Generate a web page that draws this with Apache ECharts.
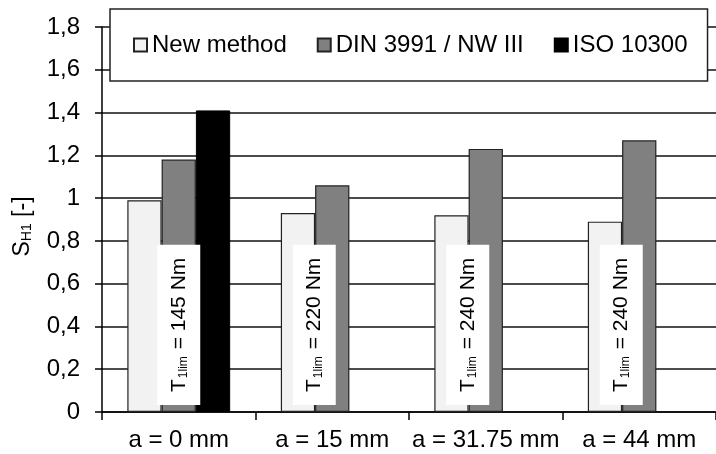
<!DOCTYPE html>
<html>
<head>
<meta charset="utf-8">
<script src="https://cdn.jsdelivr.net/npm/echarts@6/dist/echarts.min.js"></script>
<style>
    html, body { margin: 0; padding: 0; background: #fff; }
    #chart { width: 716px; height: 454px; }
</style>
</head>
<body>
<div id="chart"></div>
<script>
    // 数据
    var categories = ['a = 0 mm', 'a = 15 mm', 'a = 31.75 mm', 'a = 44 mm'];
    var newMethod = [0.99, 0.93, 0.92, 0.89];
    var din3991 = [1.18, 1.06, 1.23, 1.27];
    var iso10300 = [1.41, null, null, null];
    var torqueLabels = ['145', '220', '240', '240'];

    var fontFamily = 'Arial, "Liberation Sans", sans-serif';

    // 竖排扭矩标签
    var labelFor = function(i) {
        return {
            show: true,
            position: 'insideBottom',
            rotate: 90,
            align: 'left',
            verticalAlign: 'middle',
            distance: 7,
            offset: i === 0 ? [0, 0] : [0, -18],
            backgroundColor: '#fff',
            padding: [11, 13, 11, 13],
            formatter: '{t|T}{s|1lim}{t| = ' + torqueLabels[i] + ' Nm}',
            rich: {
                t: { fontSize: 21, color: '#000', fontFamily: fontFamily },
                s: { fontSize: 12, color: '#000', fontFamily: fontFamily, verticalAlign: 'bottom', padding: [0, 1, 0, 1] }
            }
        };
    };

    var dinData = [];
    for (var i = 0; i < din3991.length; i++) {
        dinData.push({ value: din3991[i], label: labelFor(i) });
    }

    var chart = echarts.init(document.getElementById('chart'), null, { renderer: 'canvas' });
    var option = {
        animation: false,
        textStyle: { fontFamily: fontFamily, color: '#000' },
        grid: {
            left: 102,
            top: 27,
            bottom: 42,
            right: -8
        },
        legend: {
            left: 110,
            top: 9,
            padding: [24, 20, 24, 23],
            itemGap: 30,
            itemWidth: 13,
            itemHeight: 13,
            backgroundColor: '#fff',
            borderColor: '#222',
            borderWidth: 1.5,
            textStyle: { fontSize: 24, color: '#000', fontFamily: fontFamily },
            data: [
                { name: 'New method', icon: 'rect' },
                { name: 'DIN 3991 / NW III', icon: 'rect' },
                { name: 'ISO 10300', icon: 'rect' }
            ]
        },
        xAxis: {
            type: 'category',
            data: categories,
            axisLine: { lineStyle: { color: '#000', width: 1.5 } },
            axisTick: { show: true, length: 8, lineStyle: { color: '#000', width: 1.5 } },
            axisLabel: { fontSize: 24, color: '#000', margin: 16, interval: 0, fontFamily: fontFamily }
        },
        yAxis: {
            type: 'value',
            min: 0,
            max: 1.8,
            interval: 0.2,
            name: 'S{sub|H1} [-]',
            nameLocation: 'middle',
            nameGap: 68,
            nameRotate: 90,
            nameTextStyle: {
                fontSize: 23,
                color: '#000',
                fontFamily: fontFamily,
                padding: [0, 14, 0, 0],
                rich: {
                    sub: { fontSize: 14, color: '#000', fontFamily: fontFamily, verticalAlign: 'bottom' }
                }
            },
            axisLine: { show: true, lineStyle: { color: '#000', width: 1.5 } },
            axisTick: { show: true, length: 7, lineStyle: { color: '#000', width: 1.5 } },
            splitLine: { show: true, lineStyle: { color: '#111', width: 1.5 } },
            axisLabel: {
                fontSize: 24,
                color: '#000',
                margin: 22,
                fontFamily: fontFamily,
                formatter: function(value) {
                    return String(Math.round(value * 10) / 10).replace('.', ',');
                }
            }
        },
        series: [{
            name: 'New method',
            type: 'bar',
            barGap: '0%',
            barCategoryGap: '33%',
            itemStyle: { color: '#f2f2f2', borderColor: '#222', borderWidth: 1.2 },
            data: newMethod
        }, {
            name: 'DIN 3991 / NW III',
            type: 'bar',
            itemStyle: { color: '#808080', borderColor: '#222', borderWidth: 1.2 },
            data: dinData
        }, {
            name: 'ISO 10300',
            type: 'bar',
            itemStyle: { color: '#000', borderColor: '#000', borderWidth: 1 },
            data: iso10300
        }]
    };
    chart.setOption(option);
</script>
</body>
</html>
